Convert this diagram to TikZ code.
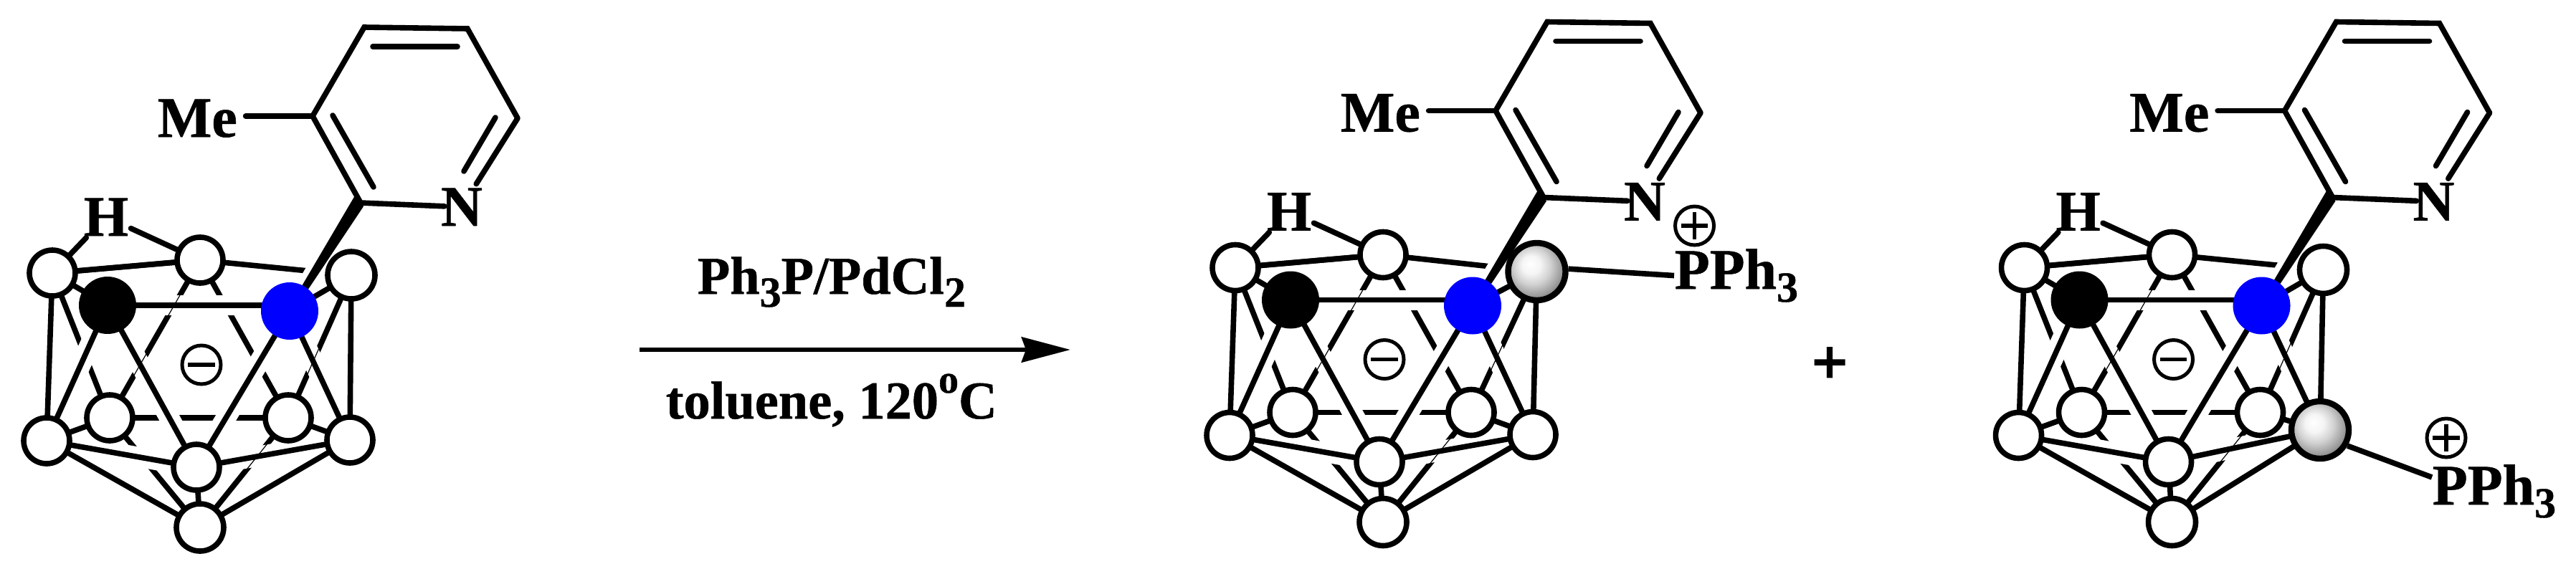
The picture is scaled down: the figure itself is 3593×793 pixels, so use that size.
\documentclass[tikz,border=0pt]{standalone}
\usepackage{fontspec}
\setmainfont{Liberation Serif}[BoldFeatures={FakeBold=0.7}]
\newfontfamily\heavyplus{Liberation Serif Bold}[FakeBold=2.5]
\usetikzlibrary{arrows.meta}
\pgfdeclarelayer{paper}
\pgfdeclarelayer{bonds}
\pgfsetlayers{paper,bonds,main}
\pgfdeclareradialshading{ballsh}{\pgfpoint{-6bp}{7bp}}{%
  color(0bp)=(white); color(8bp)=(black!4); color(16bp)=(black!18);
  color(24bp)=(black!38); color(32bp)=(black!62); color(50bp)=(black!62)}
\tikzset{
  x=.25pt,y=-.25pt,
  bond/.style={line width=1.9pt},
  inner/.style={line width=1.9pt,line cap=round},
  thinbond/.style={line width=.3pt},
  halo/.style={draw=white,line width=7pt},
  atom/.style={circle,draw,fill=white,line width=1.9pt,minimum size=16pt,inner sep=0pt},
  blackatom/.style={circle,fill=black,minimum size=20pt,inner sep=0pt},
  blueatom/.style={circle,fill={rgb,255:red,0;green,0;blue,255},minimum size=20pt,inner sep=0pt},
  ballatom/.style={circle,draw,line width=2.1pt,minimum size=20pt,inner sep=0pt,shading=ballsh},
  chem/.style={inner sep=0pt,font=\fontsize{20}{20}\selectfont\bfseries},
  cond/.style={inner sep=0pt,font=\fontsize{18.6}{20}\selectfont\bfseries},
  minuscharge/.style={circle,draw,line width=1.25pt,minimum size=13.5pt,inner sep=0pt,
    path picture={\draw[line width=1.35pt] ([xshift=-4.7pt]path picture bounding box.center) -- ([xshift=4.7pt]path picture bounding box.center);}},
  pluscharge/.style={circle,draw,line width=1.25pt,minimum size=13.5pt,inner sep=0pt,
    path picture={\draw[line width=1.35pt] ([xshift=-4.7pt]path picture bounding box.center) -- ([xshift=4.7pt]path picture bounding box.center);
      \draw[line width=1.35pt] ([yshift=-4.7pt]path picture bounding box.center) -- ([yshift=4.7pt]path picture bounding box.center);}}
}
\newcommand\lowfig[1]{\raisebox{-4.5pt}{\fontsize{15}{15}\selectfont #1}}
\newcommand\molecule[7]{%
\begin{scope}[shift={(#2,#3)}]
  % cage atoms
  \node[atom] (#1a) at (73,381) {};
  \node[atom] (#1b) at (279,363) {};
  \node[blackatom] (#1c) at (150,426) {};
  \node[blueatom] (#1d) at (404,434) {};
  \node[#4] (#1e) at (#5) {};
  \node[atom] (#1f) at (153,583) {};
  \node[atom] (#1g) at (402,583) {};
  \node[atom] (#1h) at (65,615) {};
  \node[#6] (#1i) at (#7) {};
  \node[atom] (#1j) at (274,652) {};
  \node[atom,minimum size=16.5pt] (#1k) at (279,736) {};
  \node[minuscharge] (#1m) at (281,509) {};
  % labels
  \node[chem,anchor=base west] (#1me) at (219,191) {Me};
  \node[chem,anchor=base] (#1n) at (644,315) {N};
  \node[chem,anchor=base] (#1hy) at (148,329) {H};
  % pyridine ring points
  \coordinate (#1c2) at (503,283);
  \coordinate (#1c3) at (436,162);
  \coordinate (#1c4) at (508,38);
  \coordinate (#1c5) at (652,40);
  \coordinate (#1c6) at (722,165);
  \coordinate (#1p) at (520,65);
  \coordinate (#1q) at (638,65);
  \coordinate (#1r) at (464,161);
  \coordinate (#1s) at (521,261);
  \coordinate (#1t) at (691,164);
  \coordinate (#1u) at (647,239);
  \coordinate (#1w1) at (495,273);
  \coordinate (#1w2) at (507,288);
  \coordinate (#1w3) at (407,438);
  \coordinate (#1w4) at (401,433);
  \begin{pgfonlayer}{bonds}
    % back bonds
    \foreach \u/\v in {a/f,b/f,b/g,e/g,f/g,f/k,g/k,a/b,b/e}
      \draw[bond] (#1\u.center) -- (#1\v.center);
    % white gaps where the front bonds pass
    \draw[halo] (#1c.center) -- (#1c.center -| #1d.center);
    \foreach \u/\v in {c/h,c/j,d/j,d/i,h/j,i/j}
      \draw[halo] (#1\u.center) -- (#1\v.center);
    \path[draw=white,fill=white,line width=4pt] (#1w1) -- (#1w2) -- (#1w3) -- (#1w4) -- cycle;
    % hairline remains of the interrupted back bonds
    \foreach \u/\v in {b/f,e/g,g/k}
      \draw[thinbond] (#1\u.center) -- (#1\v.center);
    % front bonds
    \draw[bond] (#1c.center) -- (#1c.center -| #1d.center);
    \foreach \u/\v in {a/b,a/c,a/h,c/h,c/j,d/e,d/j,d/i,e/i,f/h,g/i,h/j,i/j,h/k,i/k,j/k}
      \draw[bond] (#1\u.center) -- (#1\v.center);
    \fill (#1w1) -- (#1w2) -- (#1w3) -- (#1w4) -- cycle;
    % H bridges
    \draw[inner,shorten >=10pt] (#1a.center) -- (#1hy.center);
    \draw[inner,shorten >=9.5pt] (#1b.center) -- (#1hy.center);
  \end{pgfonlayer}
  % pyridine
  \draw[bond,line join=miter] (#1c2) -- (#1c3) -- (#1c4) -- (#1c5) -- (#1c6);
  \draw[inner,shorten >=6pt] (#1c2) -- (#1n.center);
  \draw[inner,shorten >=9.5pt] (#1c6) -- (#1n.center);
  \draw[inner] (#1p) -- (#1q);
  \draw[inner] (#1r) -- (#1s);
  \draw[inner] (#1t) -- (#1u);
  \draw[inner,shorten >=2.75pt] (#1c3) -- (#1c3 -| #1me.east);
\end{scope}}
\begin{document}
\begin{tikzpicture}
\useasboundingbox (0,0) rectangle (3593,793);
\begin{pgfonlayer}{paper}
\fill[white] (0,0) rectangle (3593,793);
\end{pgfonlayer}
\molecule{m1}{0}{0}{atom,minimum size=16.5pt}{490,384}{atom}{488,614}
\molecule{m2}{1650}{-7.5}{ballatom}{493.5,386.5}{atom}{488,614}
\molecule{m3}{2750.5}{-7.5}{atom,minimum size=16.5pt}{490,384}{ballatom}{485.5,607.5}
% reaction arrow and conditions
\coordinate (arrowfrom) at (892,488);
\coordinate (arrowto) at (1493,488);
\draw[line width=1.7pt,-{Stealth[length=17pt,width=8.75pt,inset=1.5pt]}] (arrowfrom) -- (arrowto);
\node[cond,anchor=base west] (reagent) at (972,410) {Ph\lowfig{3}P/PdCl\lowfig{2}};
\node[cond,anchor=base west] (solvent) at (928,584) {toluene, 120\raisebox{9pt}{\fontsize{14}{14}\selectfont o}C};
\node[inner sep=0pt,font=\fontsize{22}{22}\selectfont\heavyplus] (plus) at (2552,510) {+};
% phosphonium groups
\node[chem,anchor=base west] (p2) at (2335,403) {PPh\lowfig{3}};
\node[pluscharge] (c2) at (2363.5,315) {};
\draw[bond] (m2e.5) -- (p2.west);
\node[chem,anchor=base west] (p3) at (3392,704) {PPh\lowfig{3}};
\node[pluscharge] (c3) at (3412,611) {};
\coordinate (p3bond) at (3392,666);
\draw[bond] (m3i.-30) -- (p3bond);
\end{tikzpicture}
\end{document}
